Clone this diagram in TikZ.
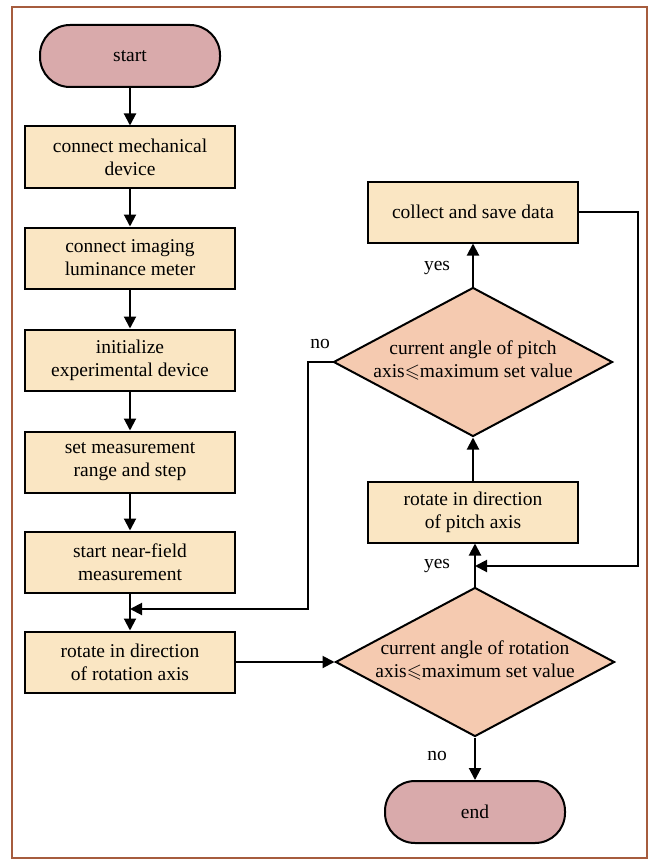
\documentclass[tikz,border=0pt]{standalone}
\usepackage{amssymb}
\usepackage{fontspec}
\setmainfont{Liberation Serif}
\usetikzlibrary{shapes.geometric,arrows.meta}
\definecolor{termc}{RGB}{217,170,171}
\definecolor{boxc}{RGB}{250,230,195}
\definecolor{diac}{RGB}{245,202,176}
\definecolor{framec}{RGB}{166,92,62}
\tikzset{
  base/.style={draw=black,line width=2pt,font=\fontsize{19.5}{23}\selectfont,align=center,inner sep=0pt},
  term/.style={base,fill=termc,rectangle,rounded corners=30pt,minimum width=180pt,minimum height=62pt},
  stepbox/.style={base,fill=boxc,rectangle,minimum width=210pt,minimum height=61pt},
  dia/.style={base,fill=diac,diamond,minimum width=279pt,minimum height=149pt},
  conn/.style={line width=2pt,-{Triangle[length=12pt,width=12pt]}},
  lbl/.style={font=\fontsize{19.5}{23}\selectfont,inner sep=0pt}
}
\begin{document}
\begin{tikzpicture}[x=1pt,y=-1pt]
\useasboundingbox (0,0) rectangle (653,861);
\draw[framec,line width=2pt] (12,7) rectangle (647,858);
\node[term] (start) at (130,56) {start};
\node[stepbox] (b1) at (130,157) {connect mechanical\\device};
\node[stepbox] (b2) at (130,258) {connect imaging\\luminance meter};
\node[stepbox] (b3) at (130,360) {initialize\\experimental device};
\node[stepbox] (b4) at (130,462) {set measurement\\range and step};
\node[stepbox] (b5) at (130,562) {start near-field\\measurement};
\node[stepbox] (b6) at (130,662) {rotate in direction\\of rotation axis};
\node[dia] (d2) at (475,662) {};
\node[lbl,align=center] (t2) at (475,660) {current angle of rotation\\axis$\leqslant$maximum set value};
\node[term] (end) at (475,812) {end};
\node[stepbox] (b7) at (473,512) {rotate in direction\\of pitch axis};
\node[dia] (d1) at (473,362) {};
\node[lbl,align=center] (t1) at (473,360) {current angle of pitch\\axis$\leqslant$maximum set value};
\node[stepbox] (b8) at (473,212) {collect and save data};
\coordinate (j1) at (130,609);
\coordinate (j2) at (475,566);
\draw[conn] (start) -- (b1);
\draw[conn] (b1) -- (b2);
\draw[conn] (b2) -- (b3);
\draw[conn] (b3) -- (b4);
\draw[conn] (b4) -- (b5);
\draw[conn] (b5) -- (b6);
\draw[conn] (d1.west) -- (308,362) |- (j1);
\draw[conn] (b6.east) -- (d2.west);
\draw[conn] (d2.south) -- (end.north);
\draw[conn] (d2.north) -- (d2.north |- b7.south);
\draw[conn] (b7.north) -- (b7.north |- d1.south);
\draw[conn] (d1.north) -- (d1.north |- b8.south);
\draw[conn] (b8.east) -- (638,212) |- (j2);
\node[lbl] (no1) at (320,344) {no};
\node[lbl] (yes1) at (437,268) {yes};
\node[lbl] (yes2) at (437,566) {yes};
\node[lbl] (no2) at (437,756) {no};
\end{tikzpicture}
\end{document}
